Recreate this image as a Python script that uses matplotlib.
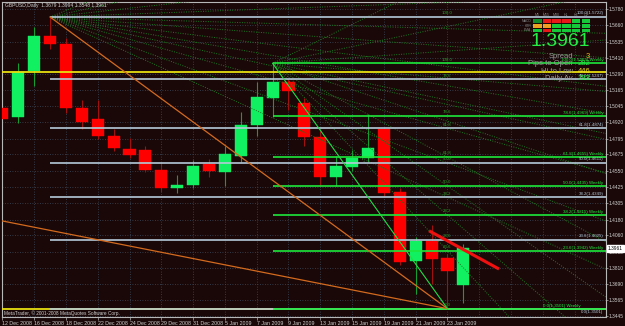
import numpy as np
import matplotlib
matplotlib.use('Agg')
import matplotlib.pyplot as plt
import matplotlib.transforms as mtrans
from matplotlib.patches import Rectangle

plt.rcParams['font.family'] = ['Liberation Sans', 'DejaVu Sans']

# ---- candle data (GBPUSD daily) ----
dates = ['12 Dec 2008', '15 Dec 2008', '16 Dec 2008', '17 Dec 2008', '18 Dec 2008',
         '19 Dec 2008', '22 Dec 2008', '23 Dec 2008', '24 Dec 2008', '26 Dec 2008',
         '29 Dec 2008', '30 Dec 2008', '31 Dec 2008', '2 Jan 2009', '5 Jan 2009',
         '6 Jan 2009', '7 Jan 2009', '8 Jan 2009', '9 Jan 2009', '12 Jan 2009',
         '13 Jan 2009', '14 Jan 2009', '15 Jan 2009', '16 Jan 2009', '19 Jan 2009',
         '20 Jan 2009', '21 Jan 2009', '22 Jan 2009', '23 Jan 2009', '26 Jan 2009']
opens = [1.5031, 1.4962, 1.5310, 1.5577, 1.5516, 1.5029, 1.4944, 1.4815, 1.4714, 1.4710,
         1.4560, 1.4420, 1.4445, 1.4603, 1.4539, 1.4667, 1.4899, 1.5107, 1.5224, 1.5064,
         1.4805, 1.4501, 1.4577, 1.4646, 1.4866, 1.4389, 1.3862, 1.4014, 1.3884, 1.3679]
highs = [1.5112, 1.5373, 1.5643, 1.5722, 1.5560, 1.5090, 1.5090, 1.4870, 1.4800, 1.4740,
         1.4620, 1.4520, 1.4630, 1.4640, 1.4740, 1.4996, 1.5229, 1.5369, 1.5249, 1.5102,
         1.4860, 1.4660, 1.4707, 1.4986, 1.4886, 1.4420, 1.4050, 1.4141, 1.3920, 1.3994]
lows = [1.4808, 1.4912, 1.5196, 1.5480, 1.4990, 1.4870, 1.4790, 1.4700, 1.4650, 1.4540,
        1.4390, 1.4380, 1.4420, 1.4500, 1.4435, 1.4616, 1.4818, 1.4962, 1.5010, 1.4739,
        1.4435, 1.4435, 1.4551, 1.4620, 1.4360, 1.3830, 1.3612, 1.3688, 1.3501, 1.3548]
closes = [1.4943, 1.5305, 1.5577, 1.5514, 1.5031, 1.4924, 1.4815, 1.4726, 1.4671, 1.4560,
          1.4420, 1.4445, 1.4590, 1.4552, 1.4678, 1.4899, 1.5115, 1.5224, 1.5160, 1.4805,
          1.4505, 1.4587, 1.4650, 1.4728, 1.4379, 1.3854, 1.4014, 1.3877, 1.3788, 1.3961]

price_ticks = [1.5780, 1.5660, 1.5535, 1.5410, 1.5290, 1.5165, 1.5045, 1.4920, 1.4795, 1.4675,
               1.4550, 1.4425, 1.4305, 1.4180, 1.4060, 1.3935, 1.3810, 1.3690, 1.3565, 1.3445]
last_price = 1.3961

# ---- drawing objects ----
fib_levels = [100.0, 78.6, 61.8, 50.0, 38.2, 23.6, 0.0]
fib_d_start, fib_d_high = 3, 1.5722      # daily fib (white)
fib_w_start, fib_w_high = 17, 1.5369     # weekly fib (green)
fib_end, fib_low = 28, 1.3501
fan_d = [-0.55, -0.3, -0.15, -0.05, 0.04, 0.1, 0.17, 0.236, 0.3, 0.382, 0.5, 0.618]
fan_w = [-0.35, -0.15, -0.05, 0.06, 0.15, 0.236, 0.382, 0.5, 0.618, 0.764]
yellow_levels = [1.5306, 1.3501]
orange2 = ([0, 28], [1.4169, 1.3501])
red_trend = ([26.84, 31.24], [1.4094, 1.3803])

panel_rows = ['MACD', 'STR', 'EMA']
panel_cols = ['M5', 'M15', 'M30', 'H1', 'H4', 'D1']
panel_cells = [['#138a2a', '#e81818', '#e81818', '#e81818', '#14c83a', '#14c83a'],
               ['#f0a020', '#f0a020', '#14c83a', '#14c83a', '#14c83a', '#14c83a'],
               ['#14c83a', '#e81818', '#14c83a', '#14c83a', '#14c83a', '#14c83a']]
panel_text = [('Spread', '3', '#f0b020'), ('Pips to Open', '282', '#22ee44'),
              ('Hi to Low', '446', '#f0e020'), ('Daily Av', '393', '#22ee44')]

BG = '#1a0808'
FG = '#d0d0d0'

fig = plt.figure(figsize=(6.25, 3.26), dpi=100, facecolor=BG)
ax = fig.add_axes([2 / 625, 9.3 / 326, 604 / 625, 314.7 / 326], facecolor=BG)
xmin, xmax = -0.02, 37.97
ax.set_xlim(xmin, xmax)
ax.set_ylim(1.3440, 1.5836)

# grid
for p in price_ticks:
    ax.axhline(p, color='#3d4b5c', lw=0.6, ls=(0, (1, 2)), zorder=0)
for i in range(0, 38, 2):
    ax.axvline(i, color='#3d4b5c', lw=0.6, ls=(0, (1, 2)), zorder=0)

# candles
x = np.arange(len(opens))
o, h, l, c = map(np.array, (opens, highs, lows, closes))
up = c >= o
ax.vlines(x[up], l[up], h[up], color='#14a030', lw=0.8, zorder=2)
ax.vlines(x[~up], l[~up], h[~up], color='#a01010', lw=0.8, zorder=2)
ax.bar(x[up], (c - o)[up], bottom=o[up], width=0.76, color='#10f060',
       edgecolor='#10f060', lw=0.3, zorder=3)
ax.bar(x[~up], (o - c)[~up], bottom=c[~up], width=0.76, color='#ff0000',
       edgecolor='#ff0000', lw=0.3, zorder=3)


def fan(x0, p0, ratios):
    # lines from the fib start through the fib levels at the end bar
    for r in ratios:
        p_end = p0 - r * (p0 - fib_low)
        slope = (p_end - p0) / (fib_end - x0)
        ax.plot([x0, xmax], [p0, p0 + slope * (xmax - x0)], color='#1f7a22',
                lw=0.7, ls=(0, (1, 1.5)), zorder=4)


fan(fib_d_start, fib_d_high, fan_d)
fan(fib_w_start, fib_w_high, fan_w)

# yellow lines
for p in yellow_levels:
    ax.axhline(p, color='#e8e010', lw=1.3, zorder=5)

# daily fib (white)
small = dict(fontsize=3.2, zorder=9)
for lvl in fib_levels:
    p = fib_low + lvl / 100 * (fib_d_high - fib_low)
    ax.hlines(p, fib_d_start, xmax, color='#b4cad8', lw=1.2, zorder=6)
    if lvl > 0:
        ax.text(xmax - 0.15, p + 0.0012, f'{lvl:.1f}({p:.4f})', color='#b4cad8',
                ha='right', va='bottom', **small)
    else:
        ax.text(xmax - 0.15, p - 0.0012, f'{lvl:.1f}({p:.4f})', color='#b4cad8',
                ha='right', va='top', **small)
    ax.text(fib_end, p + 0.0012, f'{lvl:.1f}', color='#2c9a2c', ha='center',
            va='bottom', **small)

# weekly fib (green)
for lvl in fib_levels:
    p = fib_low + lvl / 100 * (fib_w_high - fib_low)
    ax.hlines(p, fib_w_start, xmax, color='#1ee83c', lw=1.2, zorder=6)
    ax.text(xmax - 1.6 if lvl == 0 else xmax - 0.15, p + 0.0008,
            f'{lvl:.1f}({p:.4f}) Weekly', color='#1ee83c',
            ha='right', va='bottom', **small)
    if lvl > 0:
        ax.text(fib_end, p + 0.0012, f'{lvl:.1f}', color='#2c9a2c', ha='center',
                va='bottom', **small)

# trend lines
ax.plot([fib_d_start, fib_end], [fib_d_high, fib_low], color='#d46a1e', lw=0.9, zorder=7)
k = (orange2[1][1] - orange2[1][0]) / (orange2[0][1] - orange2[0][0])
ax.plot([xmin, orange2[0][1]], [orange2[1][0] + k * (xmin - orange2[0][0]), orange2[1][1]],
        color='#d46a1e', lw=0.9, zorder=7)
ax.plot([fib_w_start, fib_end], [fib_w_high, fib_low], color='#22dd44', lw=0.8, zorder=7)
ax.plot(red_trend[0], red_trend[1], color='#f01010', lw=2.2, solid_capstyle='butt', zorder=8)

# axes styling
for s in ax.spines.values():
    s.set_color('#b8b8b8')
    s.set_linewidth(0.8)
ax.yaxis.tick_right()
ax.set_yticks(price_ticks)
ax.set_yticklabels([f'{p:.4f}' for p in price_ticks])
ax.tick_params(axis='y', colors='#b8b8b8', labelcolor=FG, labelsize=3.5, length=1.5,
               width=0.5, pad=0.6)
ax.set_xticks(x[::2])
ax.set_xticklabels(dates[::2], ha='left')
ax.tick_params(axis='x', colors='#b8b8b8', labelcolor=FG, labelsize=3.8, length=2,
               width=0.5, pad=1.2)

# current price box on the axis
tr = mtrans.blended_transform_factory(ax.transAxes, ax.transData)
ax.text(1.003, last_price, f'{last_price:.4f}', transform=tr, fontsize=3.5, color='black',
        va='center', ha='left', zorder=20,
        bbox=dict(boxstyle='square,pad=0.2', fc='white', ec='white'))

# screen overlay: title, info panel, copyright
ov = fig.add_axes([0, 0, 1, 1])
ov.set_xlim(0, 625)
ov.set_ylim(326, 0)
ov.axis('off')
ov.patch.set_alpha(0)

ov.text(5, 5, f'GBPUSD,Daily  {opens[-1]:.4f} {highs[-1]:.4f} {lows[-1]:.4f} {closes[-1]:.4f}',
        fontsize=3.6, color=FG, va='center')
ov.text(4, 313, 'MetaTrader, \u00a9 2001-2008 MetaQuotes Software Corp.', fontsize=3.4,
        color=FG, va='center')

for j, name in enumerate(panel_cols):
    ov.text(537 + j * 9.7, 15.5, name, fontsize=2.6, color='#808080', ha='center', va='center')
for r, name in enumerate(panel_rows):
    ov.text(531, 21 + r * 4.7, name, fontsize=2.4, color='#808080', ha='right', va='center')
    for j, col in enumerate(panel_cells[r]):
        ov.add_patch(Rectangle((533 + j * 9.7, 19.3 + r * 4.7), 8.6, 3.6, fc=col, ec='none'))

ov.text(560, 41, f'{last_price:.4f}', fontsize=14, color='#22ee44', ha='center', va='center')
for r, (name, val, col) in enumerate(panel_text):
    ov.text(573, 56 + r * 7.6, name, fontsize=5.5, color='#9a9a9a', ha='right', va='center')
    ov.text(586 if r == 0 else 578, 56 + r * 7.6, val, fontsize=5.5, color=col,
            ha='left', va='center')

fig.savefig('out.png', dpi=100, facecolor=BG)
